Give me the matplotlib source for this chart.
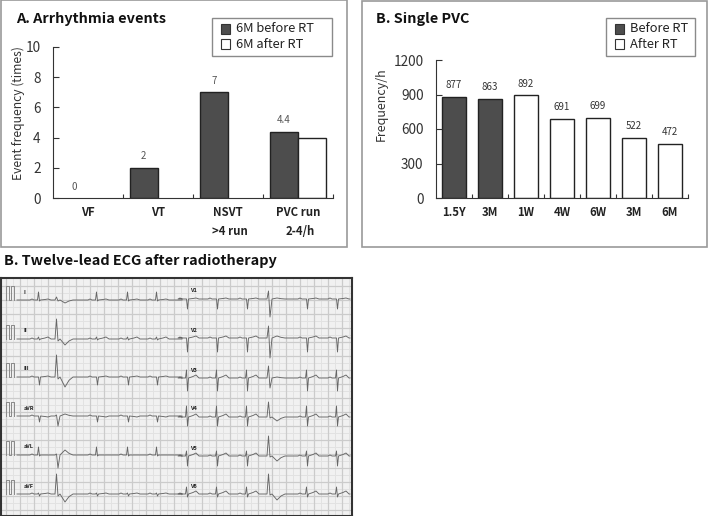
import matplotlib
matplotlib.use('Agg')
import matplotlib.pyplot as plt
from matplotlib.patches import Rectangle

plt.rcParams['font.family'] = ['Noto Sans CJK JP', 'DejaVu Sans']

W, H = 709, 516

# panel A
event_cats = ['VF', 'VT', 'NSVT\n>4 run', 'PVC run\n2-4/h']
events_before = [0, 2, 7, 4.4]
events_after = [0, 0, 0, 4]
event_labels = ['0', '2', '7', '4.4']
event_ticks = [0, 2, 4, 6, 8, 10]

# panel B
pvc_cats = ['1.5Y', '3M', '1W', '4W', '6W', '3M', '6M']
pvc_vals = [877, 863, 892, 691, 699, 522, 472]
pvc_before = [True, True, False, False, False, False, False]
pvc_ticks = [0, 300, 600, 900, 1200]

# ECG, read in picture pixels
normal_beats = [39, 97, 128, 157, 187, 217, 247, 307, 337]
pvc_beats = [57, 269]
lead_names = ['I', 'II', 'III', 'aVR', 'aVL', 'aVF', 'V1', 'V2', 'V3', 'V4', 'V5', 'V6']
lead_base = [300, 339, 377, 416, 455, 494, 299, 338, 378, 417, 456, 494]
# R height, S depth and T height of the normal beat, then the same for the PVC
lead_r = [8, 2, 0, 0, 8, 1, 0, 0, 8, 11, 5, 7]
lead_s = [1, 1, 8, 6, 1, 2, 10, 14, 13, 9, 10, 3]
lead_t = [1, 2, 1, -1, 0, 1, 1, 2, 3, 3, 3, 3]
pvc_r = [3, 20, 22, 1, 1, 20, 8, 12, 12, 15, 20, 20]
pvc_s = [1, 2, 2, 10, 13, 2, 18, 20, 10, 1, 1, 1]
pvc_t = [-3, -6, -10, 2, 5, -8, 1, 2, 1, -4, -5, -6]
grid_x = [6, 20, 34, 48, 62, 76, 90, 104, 118, 132, 146, 160, 174, 188, 202, 216, 230, 244,
          258, 272, 286, 300, 314, 328, 342]
grid_y = [286, 300, 314, 328, 342, 356, 370, 384, 398, 412, 426, 440, 454, 468, 482, 496, 510]
fine_x = [13, 27, 41, 55, 69, 83, 97, 111, 125, 139, 153, 167, 181, 195, 209, 223, 237, 251,
          265, 279, 293, 307, 321, 335, 349]
fine_y = [293, 307, 321, 335, 349, 363, 377, 391, 405, 419, 433, 447, 461, 475, 489, 503]

DARK = '#4d4d4d'
INK = '#222222'


def pix_axes(fig, left, right, top, bottom):
    return fig.add_axes([left / W, 1 - bottom / H, (right - left) / W, (bottom - top) / H])


def style_axes(ax):
    ax.patch.set_alpha(0)
    ax.spines['top'].set_visible(False)
    ax.spines['right'].set_visible(False)
    ax.spines['left'].set_color('#333333')
    ax.spines['bottom'].set_color('#333333')
    ax.tick_params(axis='y', direction='in', length=4, width=0.8, labelsize=9.8, pad=9, color='#333333', labelcolor='#333333')
    ax.tick_params(axis='x', direction='in', length=3, width=0.8, color='#333333')


def add_legend(fig, left, top, width, height, names, size=9.3):
    fig.add_artist(Rectangle((left / W, 1 - (top + height) / H), width / W, height / H,
                             transform=fig.transFigure, fc='white', ec='#8a8a8a', lw=1, zorder=5))
    for i, (name, col) in enumerate(zip(names, [DARK, 'white'])):
        y = top + 11 + i * 15
        fig.add_artist(Rectangle(((left + 9) / W, 1 - (y + 4.5) / H), 9 / W, 9 / H,
                                 transform=fig.transFigure, fc=col, ec='#333333', lw=0.8, zorder=6))
        fig.text((left + 24) / W, 1 - y / H, name, fontsize=size, color=INK, va='center', ha='left', zorder=6)


fig = plt.figure(figsize=(W / 100, H / 100), dpi=100)

# outer frames
for left, top, right, bottom in [(1, 0, 347, 247), (362, 1, 707, 247)]:
    fig.add_artist(Rectangle((left / W, 1 - bottom / H), (right - left) / W, (bottom - top) / H,
                             transform=fig.transFigure, fc='white', ec='#9a9a9a', lw=1.2, zorder=-1))

# A. events
ax = pix_axes(fig, 53, 333, 47, 198)
style_axes(ax)
bar_w = 0.405
for i in range(len(event_cats)):
    if events_before[i] > 0:
        ax.bar(i - bar_w / 2, events_before[i], bar_w, color=DARK, edgecolor=INK, lw=1)
    if events_after[i] > 0:
        ax.bar(i + bar_w / 2, events_after[i], bar_w, color='white', edgecolor=INK, lw=1)
    ax.text(i - bar_w / 2, events_before[i] + 0.42, event_labels[i], ha='center', va='bottom',
            fontsize=7, color='#555555')
ax.set_xlim(-0.5, 3.5)
ax.set_ylim(0, 10)
ax.set_yticks(event_ticks)
ax.set_xticks([0.5, 1.5, 2.5, 3.5])
ax.set_xticklabels([])
for i, cat in enumerate(event_cats):
    parts = cat.split('\n')
    ax.text(i, -0.95, parts[0], ha='center', va='center', fontsize=8.2, fontweight='bold', color=INK)
    if len(parts) > 1:
        ax.text(i + 0.03, -2.2, parts[1], ha='center', va='center', fontsize=8.2, fontweight='bold', color=INK)
ax.set_ylabel('Event frequency (times)', fontsize=8.7, color='#333333')
ax.yaxis.set_label_coords(-0.1, 0.563)
fig.text(16 / W, 1 - 19 / H, 'A. Arrhythmia events', fontsize=10.4, fontweight='bold', va='center', color='#111111')
add_legend(fig, 212, 18, 120, 38, ['6M before RT', '6M after RT'])

# B. single PVC
ax = pix_axes(fig, 436, 688, 60, 198)
style_axes(ax)
for i, val in enumerate(pvc_vals):
    ax.bar(i, val, 0.68, color=DARK if pvc_before[i] else 'white', edgecolor=INK, lw=1)
    ax.text(i, val + 60, str(val), ha='center', va='bottom', fontsize=7, color='#333333')
ax.set_xlim(-0.5, 6.5)
ax.set_ylim(0, 1200)
ax.set_yticks(pvc_ticks)
ax.set_xticks([x + 0.5 for x in range(7)])
ax.set_xticklabels([])
for i, cat in enumerate(pvc_cats):
    ax.text(i, -125, cat, ha='center', va='center', fontsize=8.2, fontweight='bold', color=INK)
ax.set_ylabel('Frequency/h', fontsize=9, color='#333333')
ax.yaxis.set_label_coords(-0.19, 0.68)
fig.text(376 / W, 1 - 19 / H, 'B. Single PVC', fontsize=10.4, fontweight='bold', va='center', color='#111111')
add_legend(fig, 606, 18, 89, 38, ['Before RT', 'After RT'])

# ECG strip
fig.text(4 / W, 1 - 261 / H, 'B. Twelve-lead ECG after radiotherapy', fontsize=10.4, fontweight='bold',
         va='center', color='#111111')
ax = pix_axes(fig, 1, 352, 278, 516)
ax.set_xlim(1, 352)
ax.set_ylim(516, 278)
ax.set_xticks(grid_x)
ax.set_yticks([])
ax.set_xticklabels([])
ax.tick_params(axis='x', direction='in', length=1.5, width=0.5, color='#444444')
ax.set_facecolor('#f1f1f1')
for s in ax.spines.values():
    s.set_color('#333333')
    s.set_linewidth(1.5)
ax.vlines(fine_x, 278, 516, color='#e2e2e2', lw=0.7)
ax.hlines(fine_y, 1, 352, color='#e2e2e2', lw=0.7)
ax.vlines(grid_x, 278, 516, color='#cbcbcb', lw=0.9)
ax.hlines(grid_y, 1, 352, color='#cbcbcb', lw=0.9)
for i, name in enumerate(lead_names):
    left_side = i < 6
    base = lead_base[i]
    x0, x1 = (17, 182) if left_side else (182, 350)
    xs, ys = [x0], [base]
    side_beats = sorted(b for b in normal_beats + pvc_beats if x0 <= b < x1)
    for b in side_beats:
        if b in pvc_beats:
            xs += [b - 2, b - 0.5, b + 1, b + 3, b + 8, b + 12, b + 16]
            ys += [base, base - pvc_r[i], base + pvc_s[i], base, base - pvc_t[i], base - pvc_t[i] / 3, base]
        else:
            xs += [b - 9, b - 7, b - 5, b - 1.5, b - 0.5, b + 0.5, b + 1.5, b + 6, b + 9, b + 12]
            ys += [base, base - 1, base, base, base - lead_r[i], base + lead_s[i], base, base - lead_t[i] / 2,
                   base - lead_t[i], base]
    xs.append(x1)
    ys.append(base)
    ax.plot(xs, ys, color='#666666', lw=0.65)
    # calibration pulse
    if left_side:
        ax.plot([6, 6, 9, 9, 11, 11, 14, 14], [base, base - 14, base - 14, base, base, base - 14, base - 14, base],
                color='#888888', lw=0.7)
    ax.text(24 if left_side else 190, base - 8, name, fontsize=4, color=INK, fontweight='bold',
            ha='left', va='center')

fig.savefig('out.png', dpi=100)
